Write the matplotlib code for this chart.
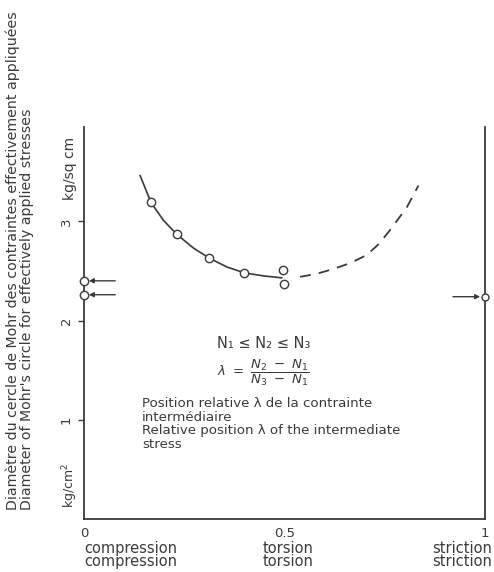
import matplotlib
matplotlib.use("Agg")
import matplotlib.pyplot as plt

# measured points (relative position lambda, diameter kg/cm2)
pts_x = [0.167, 0.231, 0.312, 0.400, 0.497, 0.499]
pts_y = [3.19, 2.87, 2.63, 2.48, 2.51, 2.37]

# points on the axes, marked with arrows
left_y = [2.40, 2.26]
right_y = [2.24]

# solid curve through the measurements
solid_x = [0.140, 0.167, 0.198, 0.231, 0.273, 0.312, 0.356, 0.400, 0.447, 0.493]
solid_y = [3.46, 3.19, 3.01, 2.87, 2.73, 2.63, 2.54, 2.48, 2.45, 2.43]

# dashed extrapolation
dash_x = [0.539, 0.580, 0.622, 0.665, 0.705, 0.735, 0.763, 0.805, 0.834]
dash_y = [2.44, 2.47, 2.52, 2.58, 2.66, 2.77, 2.91, 3.14, 3.36]

xticks = [0, 0.5, 1]
xticklabels = ["0", "0.5", "1"]
yticks = [1, 2, 3]

ink = "#3a3a3a"
plt.rcParams["font.family"] = ["DejaVu Sans"]
plt.rcParams["mathtext.fontset"] = "dejavusans"

fig = plt.figure(figsize=(4.94, 5.72), dpi=100)
ax = fig.add_axes([84 / 494, 1 - 519 / 572, 401 / 494, 392 / 572])

ax.plot(solid_x, solid_y, color=ink, lw=1.2)
ax.plot(dash_x, dash_y, color=ink, lw=1.3, dashes=(6, 4.5))
ax.plot(pts_x, pts_y, "o", ms=6, mfc="white", mec=ink, mew=1.0, zorder=3)
ax.plot([0] * len(left_y), left_y, "o", ms=6, mfc="white", mec=ink,
        mew=1.0, clip_on=False, zorder=4)
ax.plot([1] * len(right_y), right_y, "o", ms=5, mfc="white", mec=ink,
        mew=1.0, clip_on=False, zorder=4)

for yv in left_y:
    ax.annotate("", xy=(0.012, yv), xytext=(0.078, yv),
                arrowprops=dict(arrowstyle="-|>", color=ink, lw=1.0,
                                mutation_scale=7, shrinkA=0, shrinkB=0))
for yv in right_y:
    ax.annotate("", xy=(0.988, yv), xytext=(0.920, yv),
                arrowprops=dict(arrowstyle="-|>", color=ink, lw=1.0,
                                mutation_scale=7, shrinkA=0, shrinkB=0))

ax.set_xlim(0, 1)
ax.set_ylim(0, 3.95)
ax.spines["top"].set_visible(False)
for s in ["left", "right", "bottom"]:
    ax.spines[s].set_color(ink)
    ax.spines[s].set_linewidth(1.3)

ax.set_xticks(xticks)
ax.set_xticklabels(xticklabels)
ax.tick_params(axis="x", length=0, pad=6, labelsize=9.5, colors=ink)
ax.set_yticks(yticks)
ax.set_yticklabels([str(v) for v in yticks], rotation=90, va="center")
ax.tick_params(axis="y", length=4, width=1, pad=4, labelsize=9.5, colors=ink)

# case names under the x axis
ax.text(0, -0.055, "compression\ncompression", transform=ax.transAxes,
        ha="left", va="top", fontsize=10.5, color=ink, linespacing=0.9)
ax.text(0.51, -0.055, "torsion\ntorsion", transform=ax.transAxes,
        ha="center", va="top", fontsize=10.5, color=ink, linespacing=0.9)
ax.text(1.017, -0.055, "striction\nstriction", transform=ax.transAxes,
        ha="right", va="top", fontsize=10.5, color=ink, linespacing=0.9)

# units along the y axis
fig.text(70 / 494, 1 - 200 / 572, "kg/sq cm", rotation=90, ha="center",
         va="bottom", fontsize=10, color=ink)
fig.text(70 / 494, 1 - 508 / 572, "kg/cm$^2$", rotation=90, ha="center",
         va="bottom", fontsize=9, color=ink)

# y axis title, two languages
fig.text(13 / 494, 1 - 510 / 572,
         "Diamètre du cercle de Mohr des contraintes effectivement appliquées",
         rotation=90, ha="center", va="bottom", fontsize=10.2, color=ink)
fig.text(27 / 494, 1 - 510 / 572,
         "Diameter of Mohr's circle for effectively applied stresses",
         rotation=90, ha="center", va="bottom", fontsize=10.2, color=ink)

# definitions inside the plot
ax.text(0.448, (519 - 343) / 99.3, "N₁ ≤ N₂ ≤ N₃", ha="center", va="center",
        fontsize=10.5, color=ink)
ax.text(0.448, (519 - 373) / 99.3,
        r"$\lambda\ =\ \dfrac{N_2\ -\ N_1}{N_3\ -\ N_1}$",
        ha="center", va="center", fontsize=9.5, color=ink)
ax.text(0.145, (519 - 397) / 99.3,
        "Position relative λ de la contrainte\nintermédiaire\n"
        "Relative position λ of the intermediate\nstress",
        ha="left", va="top", fontsize=9.6, color=ink, linespacing=1.05)

fig.savefig("out.png", dpi=100)
